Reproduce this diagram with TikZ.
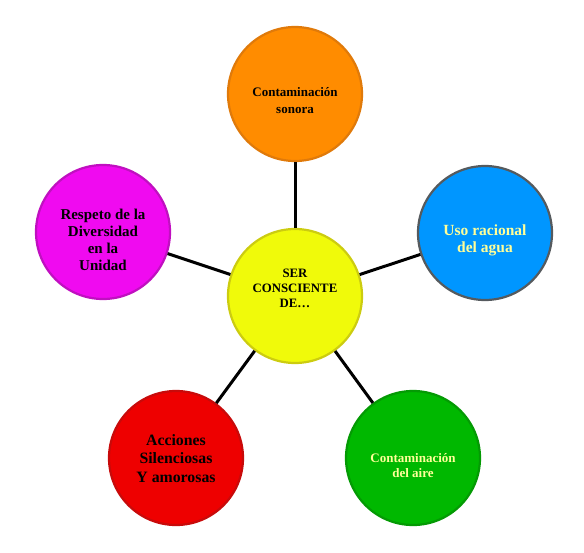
\documentclass[tikz,border=0pt]{standalone}
\usepackage{fontspec}
\setmainfont{Liberation Serif}
\begin{document}
\begin{tikzpicture}[x=1pt,y=-1pt,
  bubble/.style={circle,minimum size=134pt,inner sep=0pt,line width=2.2pt},
  txt/.style={align=center,inner sep=0pt},
  link/.style={line width=3pt,black}]
\useasboundingbox (0,0) rectangle (584,552);
\definecolor{orfill}{HTML}{FF8C00}\definecolor{ordraw}{HTML}{E07A0A}
\definecolor{blfill}{HTML}{0096FF}\definecolor{bldraw}{HTML}{555A5E}
\definecolor{yefill}{HTML}{F0FA0A}\definecolor{yedraw}{HTML}{CCCC10}
\definecolor{mgfill}{HTML}{F00AF0}\definecolor{mgdraw}{HTML}{C010C0}
\definecolor{rdfill}{HTML}{EE0000}\definecolor{rddraw}{HTML}{C80A0A}
\definecolor{grfill}{HTML}{00B800}\definecolor{grdraw}{HTML}{049A04}
\definecolor{ltxt}{HTML}{FFFF99}
\node[bubble,fill=orfill,draw=ordraw] (o) at (295,94) {};
\node[bubble,fill=blfill,draw=bldraw] (b) at (485,233) {};
\node[bubble,fill=mgfill,draw=mgdraw] (m) at (103,232) {};
\node[bubble,fill=rdfill,draw=rddraw] (r) at (176,458) {};
\node[bubble,fill=grfill,draw=grdraw] (g) at (413,458) {};
\node[bubble,fill=yefill,draw=yedraw] (c) at (295,296) {};
\node[txt,font=\bfseries\fontsize{13}{17}\selectfont] (ot) at ([yshift=-7pt]o.center) {Contaminación\\sonora};
\node[txt,text=ltxt,font=\bfseries\fontsize{15.5}{17}\selectfont] (bt) at ([yshift=-7pt]b.center) {Uso racional\\del agua};
\node[txt,font=\bfseries\fontsize{15}{17}\selectfont] (mt) at ([yshift=-7.5pt]m.center) {Respeto de la\\Diversidad\\en la\\Unidad};
\node[txt,font=\bfseries\fontsize{15.8}{18.5}\selectfont] (rt) at ([yshift=-0.5pt]r.center) {Acciones\\Silenciosas\\Y amorosas};
\node[txt,text=ltxt,font=\bfseries\fontsize{13}{15}\selectfont] (gt) at ([yshift=-7.5pt]g.center) {Contaminación\\del aire};
\node[txt,font=\bfseries\fontsize{12.8}{15}\selectfont] (ct) at ([yshift=8pt]c.center) {SER\\CONSCIENTE\\DE\dots};
\draw[link] (c) -- (o);
\draw[link] (c) -- (b);
\draw[link] (c) -- (m);
\draw[link] (c) -- (r);
\draw[link] (c) -- (g);
\end{tikzpicture}
\end{document}
